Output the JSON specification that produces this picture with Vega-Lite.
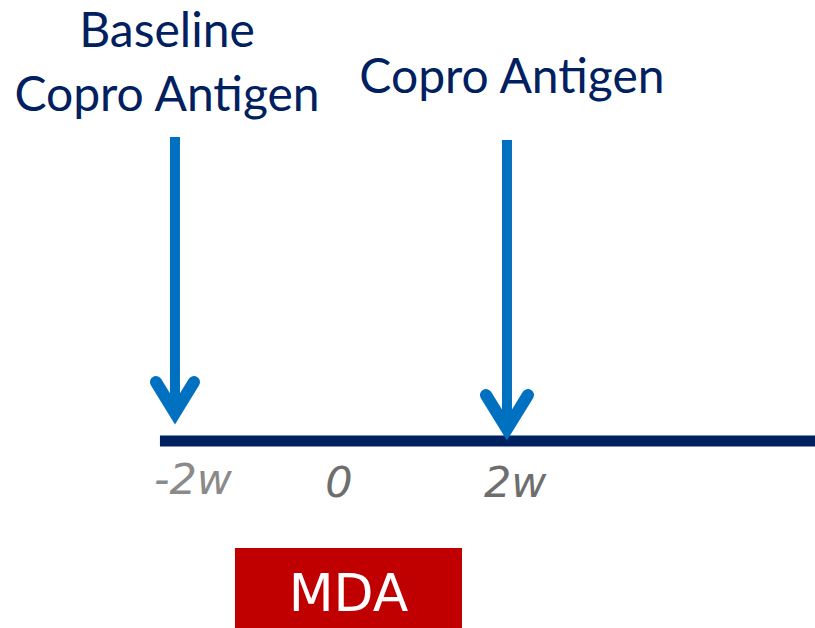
{
  "$schema": "https://vega.github.io/schema/vega-lite/v6.json",
  "width": 815,
  "height": 628,
  "autosize": {"type": "none"},
  "padding": 0,
  "background": "white",
  "config": {"view": {"stroke": null}},
  "datasets": {
    "timeline": [{"start": -2.181, "end": 5.711, "level": 0}],
    "mda": [{"start": -1.277, "end": 1.458, "top": -10.7, "bottom": -18.7, "label": "MDA", "mid": 0.09, "base": -17.0}],
    "shafts": [
      {"week": -2, "top": 30.4, "bottom": 2.8},
      {"week": 2, "top": 30.1, "bottom": 1.2}
    ],
    "heads": [
      {"arrow": "baseline", "o": 1, "week": -2.229, "level": 5.9},
      {"arrow": "baseline", "o": 2, "week": -2.0, "level": 2.8},
      {"arrow": "baseline", "o": 3, "week": -1.771, "level": 5.9},
      {"arrow": "followup", "o": 1, "week": 1.747, "level": 4.6},
      {"arrow": "followup", "o": 2, "week": 2.0, "level": 1.2},
      {"arrow": "followup", "o": 3, "week": 2.253, "level": 4.6}
    ],
    "titles": [
      {"text": "Baseline", "week": -2.096, "level": 39.4},
      {"text": "Copro Antigen", "week": -2.096, "level": 33.0},
      {"text": "Copro Antigen", "week": 2.06, "level": 34.8}
    ],
    "ticks": [
      {"text": "-2w", "week": -1.783, "level": -5.3, "phase": "pre"},
      {"text": "0", "week": -0.024, "level": -5.6, "phase": "post"},
      {"text": "2w", "week": 2.10, "level": -5.6, "phase": "post"}
    ]
  },
  "encoding": {},
  "layer": [
    {
      "data": {"name": "mda"},
      "mark": {"type": "rect", "color": "#C00000"},
      "encoding": {
        "x": {"field": "start", "type": "quantitative", "scale": {"domain": [-4.108, 5.711], "nice": false, "zero": false}, "axis": null},
        "x2": {"field": "end"},
        "y": {"field": "top", "type": "quantitative", "scale": {"domain": [-18.7, 44.1], "nice": false, "zero": false}, "axis": null},
        "y2": {"field": "bottom"}
      }
    },
    {
      "data": {"name": "mda"},
      "mark": {"type": "text", "color": "white", "font": "DejaVu Sans", "fontSize": 52, "align": "center", "baseline": "alphabetic"},
      "encoding": {
        "x": {"field": "mid", "type": "quantitative"},
        "y": {"field": "base", "type": "quantitative"},
        "text": {"field": "label"}
      }
    },
    {
      "data": {"name": "timeline"},
      "mark": {"type": "rule", "color": "#002060", "strokeWidth": 11, "strokeCap": "butt"},
      "encoding": {
        "x": {"field": "start", "type": "quantitative"},
        "x2": {"field": "end"},
        "y": {"field": "level", "type": "quantitative"}
      }
    },
    {
      "data": {"name": "shafts"},
      "mark": {"type": "rule", "color": "#0070C0", "strokeWidth": 10, "strokeCap": "butt"},
      "encoding": {
        "x": {"field": "week", "type": "quantitative"},
        "y": {"field": "top", "type": "quantitative"},
        "y2": {"field": "bottom"}
      }
    },
    {
      "data": {"name": "heads"},
      "mark": {"type": "line", "color": "#0070C0", "strokeWidth": 12, "strokeCap": "round", "strokeJoin": "miter", "strokeMiterLimit": 10},
      "encoding": {
        "x": {"field": "week", "type": "quantitative"},
        "y": {"field": "level", "type": "quantitative"},
        "detail": {"field": "arrow", "type": "nominal"},
        "order": {"field": "o", "type": "quantitative"}
      }
    },
    {
      "data": {"name": "titles"},
      "mark": {"type": "text", "color": "#002060", "font": "Lato", "fontSize": 48, "align": "center", "baseline": "alphabetic"},
      "encoding": {
        "x": {"field": "week", "type": "quantitative"},
        "y": {"field": "level", "type": "quantitative"},
        "text": {"field": "text"}
      }
    },
    {
      "data": {"name": "ticks"},
      "mark": {"type": "text", "font": "DejaVu Sans", "fontStyle": "italic", "fontSize": 43, "align": "center", "baseline": "alphabetic"},
      "encoding": {
        "x": {"field": "week", "type": "quantitative"},
        "y": {"field": "level", "type": "quantitative"},
        "text": {"field": "text"},
        "color": {"field": "phase", "type": "nominal", "scale": {"domain": ["pre", "post"], "range": ["#8a8a8a", "#6e6e6e"]}, "legend": null}
      }
    }
  ]
}
